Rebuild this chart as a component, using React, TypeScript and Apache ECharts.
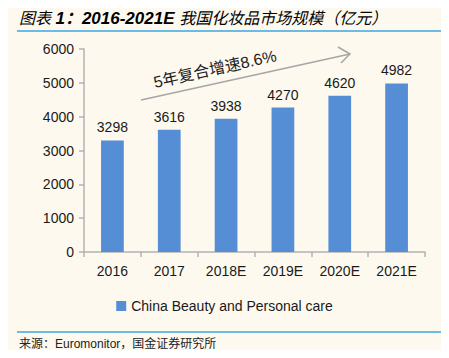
import React, { useEffect, useRef } from "react";
import * as echarts from "echarts";

const categories = ["2016", "2017", "2018E", "2019E", "2020E", "2021E"];
const marketSize = [3298, 3616, 3938, 4270, 4620, 4982];
const seriesName = "China Beauty and Personal care";
const titlePrefix = "图表 ";
const titleLatin = "1：2016-2021E ";
const titleCjk = "我国化妆品市场规模（亿元）";
const sourceText = "来源：Euromonitor，国金证券研究所";
const cagrText = "5年复合增速8.6%";

export default function App() {
  const ref = useRef<HTMLDivElement>(null);
  useEffect(() => {
    const chart = echarts.init(ref.current!, null, { renderer: "svg" });
    const axisColor = "#b3b3b3";
    const font = "'Liberation Sans', 'Noto Sans CJK SC', sans-serif";
    chart.setOption({
      animation: false,
      backgroundColor: "#fdf9ef",
      textStyle: { fontFamily: font },
      grid: { left: 84, right: 24, top: 49, bottom: 106 },
      xAxis: {
        type: "category",
        data: categories,
        axisLine: { lineStyle: { color: axisColor, width: 1.5 } },
        axisTick: { show: true, length: 5, lineStyle: { color: axisColor, width: 1.5 } },
        axisLabel: { color: "#1a1a1a", fontSize: 14, margin: 12, fontFamily: font },
      },
      yAxis: {
        type: "value",
        min: 0,
        max: 6000,
        interval: 1000,
        splitLine: { show: false },
        axisLine: { show: true, lineStyle: { color: axisColor, width: 1.5 } },
        axisTick: { show: true, length: 5, lineStyle: { color: axisColor, width: 1.5 } },
        axisLabel: {
          color: "#1a1a1a",
          fontSize: 14,
          margin: 10,
          fontFamily: font,
          formatter: (v: number) => String(v),
        },
      },
      legend: {
        bottom: 40,
        left: "center",
        icon: "rect",
        itemWidth: 10,
        itemHeight: 10,
        itemGap: 4,
        textStyle: { fontSize: 14, color: "#1a1a1a", fontFamily: font },
        data: [seriesName],
      },
      series: [
        {
          name: seriesName,
          type: "bar",
          data: marketSize,
          barWidth: "40%",
          itemStyle: { color: "#568ed6" },
          label: {
            show: true,
            position: "top",
            distance: 6,
            fontSize: 14,
            color: "#1a1a1a",
            fontFamily: font,
          },
        },
      ],
      graphic: [
        { type: "line", shape: { x1: 17, y1: 5, x2: 441, y2: 5 }, style: { stroke: "#3aa6e0", lineWidth: 1.5 } },
        { type: "line", shape: { x1: 17, y1: 31, x2: 441, y2: 31 }, style: { stroke: "#3aa6e0", lineWidth: 1.5 } },
        { type: "line", shape: { x1: 17, y1: 332, x2: 441, y2: 332 }, style: { stroke: "#3aa6e0", lineWidth: 1.5 } },
        {
          type: "text",
          x: 19,
          y: 18,
          style: {
            text: `{a|${titlePrefix}}{b|${titleLatin}}{c|${titleCjk}}`,
            verticalAlign: "middle",
            rich: {
              a: { fontFamily: font, fontStyle: "italic", fontWeight: "normal", fontSize: 16, color: "#111" },
              b: { fontFamily: font, fontStyle: "italic", fontWeight: "bold", fontSize: 17, color: "#111" },
              c: { fontFamily: font, fontStyle: "italic", fontWeight: "normal", fontSize: 16, color: "#111" },
            },
          },
        },
        {
          type: "text",
          x: 19,
          y: 344,
          style: {
            text: sourceText,
            font: "12px 'Liberation Sans', 'Noto Sans CJK SC', sans-serif",
            fill: "#222",
            verticalAlign: "middle",
          },
        },
        { type: "line", shape: { x1: 141, y1: 100, x2: 350, y2: 54 }, style: { stroke: "#a6a6a6", lineWidth: 1.5 } },
        {
          type: "polyline",
          shape: { points: [[338, 47], [350, 54], [341, 63]] },
          style: { stroke: "#a6a6a6", lineWidth: 1.5, fill: "none" },
        },
        {
          type: "text",
          x: 215,
          y: 69,
          rotation: (12.5 * Math.PI) / 180,
          style: {
            text: cagrText,
            font: "16px 'Liberation Sans', 'Noto Sans CJK SC', sans-serif",
            fill: "#222",
            align: "center",
            verticalAlign: "middle",
          },
        },
      ],
    });
    return () => chart.dispose();
  }, []);
  return <div ref={ref} style={{ width: 449, height: 358, margin: -8 }} />;
}
